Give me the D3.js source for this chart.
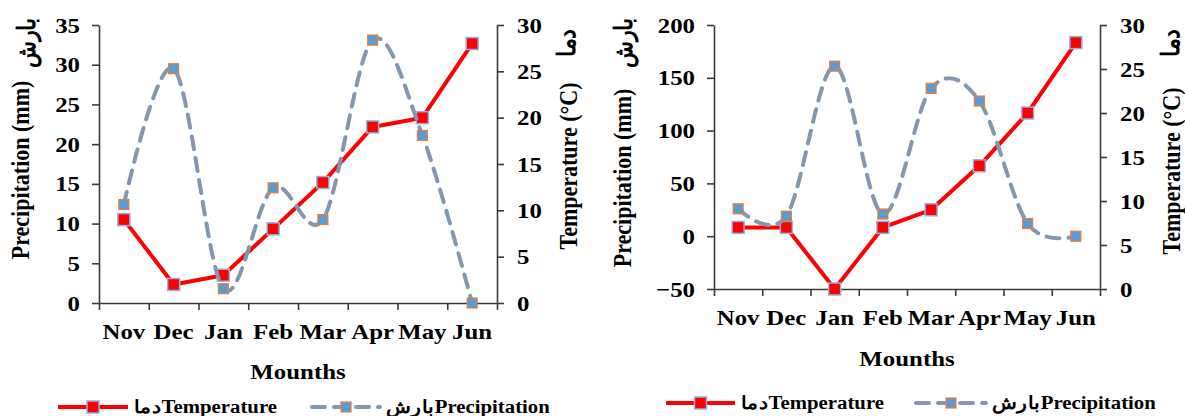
<!DOCTYPE html>
<html>
<head>
<meta charset="utf-8">
<script src="https://cdn.jsdelivr.net/npm/d3@7"></script>
<style>
  html, body { margin: 0; padding: 0; background: #fff; }
  svg text { font-family: "Liberation Serif", "Times New Roman", serif; font-weight: bold; fill: #000; }
</style>
</head>
<body>
<svg id="chart" width="1185" height="416"></svg>
<script>
// ---- data ----
const months = ["Nov", "Dec", "Jan", "Feb", "Mar", "Apr", "May", "Jun"];

// Left chart
const tempA   = [9, 2, 3, 8, 13, 19, 20, 28];
const precipA = [12.4, 29.5, 1.8, 14.5, 10.5, 33.1, 21.1, 0];
const precipTicksA = [0, 5, 10, 15, 20, 25, 30, 35];
const tempTicksA   = [0, 5, 10, 15, 20, 25, 30];

// Right chart
const tempB   = [7, 7, 0, 7, 9, 14, 20, 28];
const precipB = [26, 19, 161, 21, 140, 128, 12, 0];
const precipTicksB = [-50, 0, 50, 100, 150, 200];
const tempTicksB   = [0, 5, 10, 15, 20, 25, 30];

const xTitle = "Mounths";
const precipTitle = "Precipitation (mm)";
const precipTitleFa = "بارش";
const tempTitle = "Temperature (°C)";
const tempTitleFa = "دما";
const legendTemp = "دماTemperature";
const legendPrecip = "بارشPrecipitation";

// ---- drawing ----
const svg = d3.select("#chart");
const RED = "#ff0000", DASH = "#8497b0", AXIS = "#3a3a3a";
const S = 1.13;      // horizontal stretch of the text in the reference
const FS = 22;       // main font size

function stretchTexts(sel, size, s) {
  sel.selectAll("text").each(function () {
    const t = d3.select(this);
    const x = +t.attr("x") || 0;
    t.attr("x", x / s).attr("transform", `scale(${s},1)`)
      .attr("font-family", null).attr("font-size", null)
      .style("font-size", size + "px").attr("fill", "#000");
  });
}

function hText(g, x, y, str, size, anchor) {
  return g.append("text")
    .attr("transform", `translate(${x},${y}) scale(${S},1)`)
    .attr("text-anchor", anchor || "start").style("font-size", size + "px").text(str);
}

function vText(g, x, y, str, size) {
  return g.append("text")
    .attr("transform", `translate(${x},${y}) rotate(-90) scale(1,${S})`)
    .attr("text-anchor", "middle").style("font-size", size + "px").text(str);
}

// rotated text whose visible box is centred on (cxS, cyS)
function vTextCentered(g, cxS, cyS, str, size) {
  const t = g.append("text").attr("text-anchor", "start")
    .style("font-size", size + "px").text(str);
  const bb = t.node().getBBox();
  const lx = bb.x + bb.width / 2, ly = bb.y + bb.height / 2;
  t.attr("transform", `translate(${cxS - ly * S},${cyS + lx}) rotate(-90) scale(1,${S})`);
  return t;
}

function drawChart(o) {
  const g = svg.append("g");
  const x = d3.scaleBand().domain(months).range([o.x0, o.x1]).padding(0);
  const xb = d3.scaleLinear().domain([0, months.length]).range([o.x0, o.x1]);
  const yP = d3.scaleLinear().domain(o.pDomain).range([o.yBot, o.yTop]);
  const yT = d3.scaleLinear().domain(o.tDomain).range([o.yBot, o.yTop]);
  const cx = d => x(d) + x.bandwidth() / 2;

  // x axis with ticks at band boundaries
  const gx = g.append("g").attr("transform", `translate(0,${o.yBot})`)
    .call(d3.axisBottom(xb).tickValues(d3.range(months.length + 1)).tickFormat("").tickSize(7).tickSizeOuter(0));
  gx.selectAll("path,line").attr("stroke", AXIS).attr("stroke-width", 1.6);
  // x labels
  const gxl = g.append("g").attr("transform", `translate(0,${o.yBot})`)
    .call(d3.axisBottom(x).tickSize(0).tickPadding(o.xLabelPad));
  gxl.select(".domain").remove();
  stretchTexts(gxl, FS, S);

  // left axis
  const gl = g.append("g").attr("transform", `translate(${o.x0},0)`)
    .call(d3.axisLeft(yP).tickValues(o.pTicks).tickSize(7).tickSizeOuter(0).tickPadding(12));
  gl.selectAll("path,line").attr("stroke", AXIS).attr("stroke-width", 1.6);
  stretchTexts(gl, FS, S);

  // right axis
  const gr = g.append("g").attr("transform", `translate(${o.x1},0)`)
    .call(d3.axisRight(yT).tickValues(o.tTicks).tickSize(7).tickSizeOuter(0).tickPadding(13));
  gr.selectAll("path,line").attr("stroke", AXIS).attr("stroke-width", 1.6);
  stretchTexts(gr, FS, S);

  // titles
  hText(g, (o.x0 + o.x1) / 2, o.xTitleY, xTitle, FS, "middle");
  vText(g, o.lTitleX, o.lTitleY, precipTitle, FS);
  vTextCentered(g, o.faPX, 42, precipTitleFa, 22);
  vText(g, o.rTitleX, o.rTitleY, tempTitle, FS);
  vTextCentered(g, o.faTX, 42, tempTitleFa, 22);

  // temperature line
  const tLine = d3.line().x((d, i) => cx(months[i])).y(d => yT(d));
  g.append("path").datum(o.temp).attr("d", tLine).attr("fill", "none")
    .attr("stroke", RED).attr("stroke-width", 4).attr("stroke-linejoin", "round");
  g.selectAll(".tm").data(o.temp).enter().append("rect")
    .attr("x", (d, i) => cx(months[i]) - 6).attr("y", d => yT(d) - 6)
    .attr("width", 12).attr("height", 12).attr("fill", RED)
    .attr("stroke", "#8db4e2").attr("stroke-width", 1.5);

  // precipitation smooth dashed line
  const pLine = d3.line().x((d, i) => cx(months[i])).y(d => yP(d)).curve(d3.curveCardinal.tension(0));
  g.append("path").datum(o.precip).attr("d", pLine).attr("fill", "none")
    .attr("stroke", DASH).attr("stroke-width", 4).attr("stroke-dasharray", "13,9").attr("stroke-linecap", "round");
  g.selectAll(".pm").data(o.precip).enter().append("rect")
    .attr("x", (d, i) => cx(months[i]) - 5).attr("y", d => yP(d) - 5)
    .attr("width", 10).attr("height", 10).attr("fill", "#5b9bd5")
    .attr("stroke", "#ed7d31").attr("stroke-width", 1.2);

  // legend
  const L = o.legend;
  g.append("line").attr("x1", L.t0).attr("x2", L.t1).attr("y1", L.y).attr("y2", L.y)
    .attr("stroke", RED).attr("stroke-width", 4);
  g.append("rect").attr("x", (L.t0 + L.t1) / 2 - 6).attr("y", L.y - 6).attr("width", 12).attr("height", 12)
    .attr("fill", RED).attr("stroke", "#8db4e2").attr("stroke-width", 1.5);
  hText(g, L.t1 + 6, L.y + 6, legendTemp, 18.4);
  g.append("line").attr("x1", L.p0).attr("x2", L.p1).attr("y1", L.y).attr("y2", L.y)
    .attr("stroke", DASH).attr("stroke-width", 4).attr("stroke-dasharray", "13,9").attr("stroke-linecap", "round");
  g.append("rect").attr("x", (L.p0 + L.p1) / 2 - 5).attr("y", L.y - 5).attr("width", 10).attr("height", 10)
    .attr("fill", "#5b9bd5").attr("stroke", "#ed7d31").attr("stroke-width", 1.2);
  hText(g, L.p1 + 6, L.y + 6, legendPrecip, 18.4);
}

drawChart({
  x0: 99, x1: 497, yTop: 25, yBot: 303,
  pDomain: [0, 35], tDomain: [0, 30], pTicks: precipTicksA, tTicks: tempTicksA,
  temp: tempA, precip: precipA,
  xLabelPad: 20, xTitleY: 379,
  lTitleX: 29, lTitleY: 170, rTitleX: 577, rTitleY: 166, faPX: 27, faTX: 567,
  legend: { y: 407, t0: 58, t1: 128, p0: 312, p1: 380 }
});

drawChart({
  x0: 714, x1: 1100, yTop: 25, yBot: 289,
  pDomain: [-50, 200], tDomain: [0, 30], pTicks: precipTicksB, tTicks: tempTicksB,
  temp: tempB, precip: precipB,
  xLabelPad: 20, xTitleY: 366,
  lTitleX: 631, lTitleY: 178, rTitleX: 1180, rTitleY: 171, faPX: 624, faTX: 1171,
  legend: { y: 403, t0: 666, t1: 735, p0: 916, p1: 986 }
});
</script>
</body>
</html>
